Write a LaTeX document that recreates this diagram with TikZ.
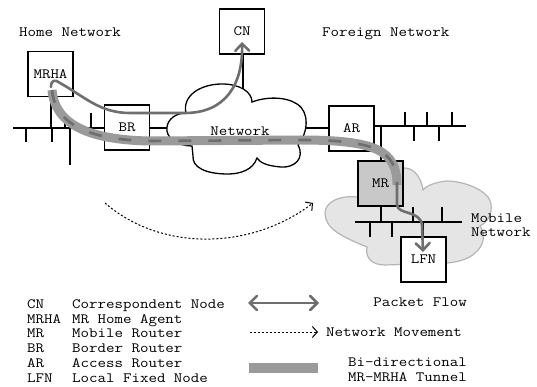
\documentclass[tikz,border=0pt]{standalone}
\usepackage{fontspec}
\setmonofont[FakeStretch=1.16]{Latin Modern Mono}
\usetikzlibrary{arrows.meta}
\definecolor{tunnelgray}{HTML}{9A9A9A}
\definecolor{flowgray}{HTML}{6E6E6E}
\definecolor{mrgray}{HTML}{C8C8C8}
\definecolor{cloudfill}{HTML}{E5E5E5}
\definecolor{cloudline}{HTML}{B5B5B5}
\begin{document}
\begin{tikzpicture}[x=1pt,y=-1pt,
  every node/.style={font=\ttfamily\fontsize{14.2}{15}\selectfont, inner sep=0pt, text height=8.6pt, text depth=0pt},
  box/.style={draw, line width=1.3pt, minimum width=45pt, minimum height=45pt, fill=white},
  wire/.style={line width=1.3pt},
  flow/.style={line width=2.6pt, draw=flowgray, line cap=round, -{Straight Barb[length=7pt,width=14pt,line cap=round]}},
  tunnelbase/.style={line width=9pt, draw=tunnelgray},
  tunneldash/.style={line width=2.6pt, draw=flowgray, dash pattern=on 13pt off 17pt},
  movement/.style={line width=1pt, dash pattern=on 2pt off 2pt, -{Straight Barb[length=5pt,width=11pt]}}
]
\useasboundingbox (0,0) rectangle (537,387);

% mobile network cloud
\draw[fill=cloudfill, draw=cloudline, line width=1.2pt]
  (357,197) .. controls (340,195) and (325,202) .. (325,213)
  .. controls (325,228) and (340,236) .. (367,247)
  .. controls (365,258) and (372,265) .. (385,265)
  -- (447,263)
  .. controls (460,262) and (470,258) .. (475,253)
  .. controls (484,246) and (486,234) .. (480,226)
  .. controls (492,220) and (494,205) .. (488,197)
  .. controls (480,187) and (460,181) .. (447,181)
  .. controls (435,182) and (426,186) .. (423,190)
  .. controls (422,180) and (415,168) .. (405,168)
  .. controls (395,168) and (385,170) .. (380,176)
  -- cycle;

% boxes
\node[box] (cn) at (242,31.5) {CN};
\node[box] (mrha) at (50.5,74) {MRHA};
\node[box] (br) at (127,127.5) {BR};
\node[box] (ar) at (351.5,128.5) {AR};
\node[box, fill=mrgray] (mr) at (380.5,183.5) {MR};
\node[box] (lfn) at (423.5,259.5) {LFN};

% home network bus
\coordinate (hl) at (13,128);
\draw[wire] (hl) -- (br.west |- hl);
\draw[wire] (26,128) -- (26,142);
\draw[wire] (52,128) -- (52,142);
\draw[wire] (70,128) -- (70,165);
\draw[wire] (mrha.south -| 51,0) -- (51,128);
\draw[wire] (65,113) -- (65,128);
\draw[wire] (91,113) -- (91,128);

% foreign network bus
\coordinate (fr) at (466,126);
\draw[wire] (ar.east |- fr) -- (fr);
\draw[wire] (405,112) -- (405,126);
\draw[wire] (427,112) -- (427,126);
\draw[wire] (452,112) -- (452,126);
\draw[wire] (414,126) -- (414,141);
\draw[wire] (439,126) -- (439,141);
\draw[wire] (381,126) -- (mr.north -| 381,0);

% mobile network bus
\coordinate (ml) at (355,222);
\coordinate (mrr) at (462,222);
\draw[wire] (ml) -- (mrr);
\draw[wire] (mr.south -| 381,0) -- (381,222);
\draw[wire] (413,207) -- (413,222);
\draw[wire] (442,207) -- (442,222);
\draw[wire] (370,222) -- (370,237);
\draw[wire] (392,222) -- (392,237);
\draw[wire] (423,222) -- (lfn.north -| 423,0);

% links to the core network
\draw[wire] (br.east |- 0,128) -- (180,128);
\draw[wire] (ar.west |- 0,128) -- (295,128);
\draw[wire] (cn.south -| 243,0) -- (243,100);

% core network cloud
\draw[fill=white, line width=1.3pt]
  (192,146) .. controls (178,146) and (165,138) .. (167,127)
  .. controls (168,119) and (176,113) .. (186,113)
  .. controls (182,96) and (200,84) .. (222,84)
  .. controls (240,84) and (252,92) .. (252,102)
  .. controls (265,97) and (285,96) .. (297,104)
  .. controls (310,112) and (308,133) .. (298,145)
  .. controls (305,158) and (295,168) .. (281,167)
  .. controls (268,166) and (260,163) .. (257,158)
  .. controls (253,170) and (240,174) .. (228,174)
  .. controls (205,174) and (192,167) .. (193,156)
  -- cycle;
\node (net) at (240,131) {Network};

% labels
\node[anchor=west] (home) at (19,32) {Home Network};
\node[anchor=west] (foreign) at (322,32) {Foreign Network};
\node[anchor=west] (mob1) at (471,218) {Mobile};
\node[anchor=west] (mob2) at (471,232) {Network};

% tunnel
\draw[tunnelbase] (52,90) .. controls (55,125) and (90,140) .. (150,141)
  -- (300,140) .. controls (375,140) and (397,150) .. (397,185);
\draw[tunneldash] (52,90) .. controls (55,125) and (90,140) .. (150,141)
  -- (300,140) .. controls (375,140) and (397,150) .. (397,185);

% packet flows
\coordinate (pf1) at (51,87);
\draw[flow] (pf1) .. controls (51,80) and (55,79) .. (60,83)
  .. controls (85,97) and (100,113) .. (130,113) -- (185,113)
  .. controls (225,113) and (243,85) .. (cn.center |- 0,42);
\coordinate (pf2) at (423,252);
\draw[flow] (mr.center -| 397,0) -- (397,205)
  .. controls (398,215) and (420,210) .. (422,225) -- (pf2);

% network movement
\coordinate (mv1) at (105,203);
\coordinate (mv2) at (313,203);
\draw[movement] (mv1) .. controls (160,251) and (250,251) .. (mv2);

% legend
\begin{scope}[every node/.append style={anchor=west}]
\node (l1a) at (27,304) {CN};   \node (l1b) at (72,304) {Correspondent Node};
\node (l2a) at (27,319) {MRHA}; \node (l2b) at (72,319) {MR Home Agent};
\node (l3a) at (27,333.5) {MR};   \node (l3b) at (72,333.5) {Mobile Router};
\node (l4a) at (27,348.5) {BR};   \node (l4b) at (72,348.5) {Border Router};
\node (l5a) at (27,363) {AR};   \node (l5b) at (72,363) {Access Router};
\node (l6a) at (27,378) {LFN};  \node (l6b) at (72,378) {Local Fixed Node};
\end{scope}
\coordinate (pa1) at (248,303);
\coordinate (pa2) at (319,303);
\draw[flow, {Straight Barb[length=7pt,width=14pt,line cap=round]}-{Straight Barb[length=7pt,width=14pt,line cap=round]}] (pa1) -- (pa2);
\node[anchor=east] (lpf) at (467,302) {Packet Flow};
\coordinate (ma1) at (250,332);
\coordinate (ma2) at (318,332);
\draw[movement] (ma1) -- (ma2);
\node[anchor=west] (lnm) at (326,332) {Network Movement};
\fill[tunnelgray] (249,363) rectangle (318,373);
\node[anchor=east] (lt1) at (467,362) {Bi-directional};
\node[anchor=east] (lt2) at (467,377) {MR-MRHA Tunnel};
\end{tikzpicture}
\end{document}
